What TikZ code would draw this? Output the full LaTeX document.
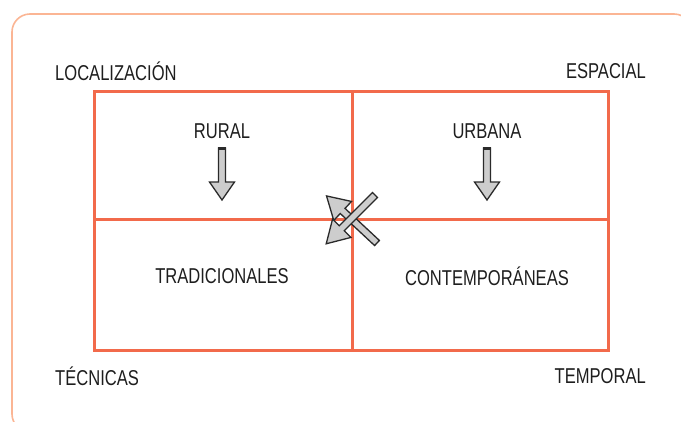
\documentclass[tikz,border=0pt]{standalone}
\usepackage{fontspec}
\setmainfont{Liberation Sans}[FakeStretch=0.77]
\usetikzlibrary{calc}
\definecolor{gridred}{HTML}{F26A4B}
\definecolor{framepeach}{HTML}{FBB594}
\definecolor{arrowfill}{HTML}{CDCDCD}
\definecolor{arrowline}{HTML}{2A2A2A}
\definecolor{textdark}{HTML}{1E1E1E}
\tikzset{
  lbl/.style={inner sep=0pt, font=\fontsize{21.5}{24}\selectfont, text=textdark},
  gridline/.style={draw=gridred, line width=3pt},
  blockarrow/.pic={
    \draw[fill=arrowfill, draw=arrowline, line width=1.3pt, line join=miter]
      (0,-3.5) -- (34,-3.5) -- (34,-12.5) -- (52,0) -- (34,12.5) -- (34,3.5) -- (0,3.5) -- cycle;
    \draw[arrowline, line width=3pt] (0.8,-4.2) -- (0.8,4.2);
  },
  crossarrow/.pic={
    \draw[fill=arrowfill, draw=arrowline, line width=1.3pt, line join=miter]
      (0,-3.5) -- (47,-3.5) -- (47,-13) -- (69,0) -- (47,13) -- (47,3.5) -- (0,3.5) -- cycle;
  }
}
\begin{document}
\begin{tikzpicture}[x=1pt,y=-1pt]
\useasboundingbox (0,0) rectangle (681,421);
\clip (0,0) rectangle (681,421);
\draw[framepeach, line width=1.6pt, rounded corners=18pt] (12,14) rectangle (692,432);
% grid
\draw[gridline] (94,91) rectangle (608,350);
\draw[gridline] (352,91) -- (352,350);
\draw[gridline] (94,219) -- (608,219);
% corner labels
\node[lbl, anchor=west] (loc) at (55,71) {LOCALIZACIÓN};
\node[lbl, anchor=east] (esp) at (646,71) {ESPACIAL};
\node[lbl, anchor=west] (tec) at (55,376) {TÉCNICAS};
\node[lbl, anchor=east] (tem) at (646,376) {TEMPORAL};
% cell labels
\node[lbl] (rural) at (222,131) {RURAL};
\node[lbl] (urbana) at (487,131) {URBANA};
\node[lbl] (trad) at (222,276) {TRADICIONALES};
\node[lbl] (cont) at (487,276) {CONTEMPORÁNEAS};
% arrows
\pic[rotate=-90] at (222,148) {blockarrow};
\pic[rotate=-90] at (487,148) {blockarrow};
\pic[rotate=137] at (377,243) {crossarrow};
\pic[rotate=225] at (375,195) {crossarrow};
\end{tikzpicture}
\end{document}
